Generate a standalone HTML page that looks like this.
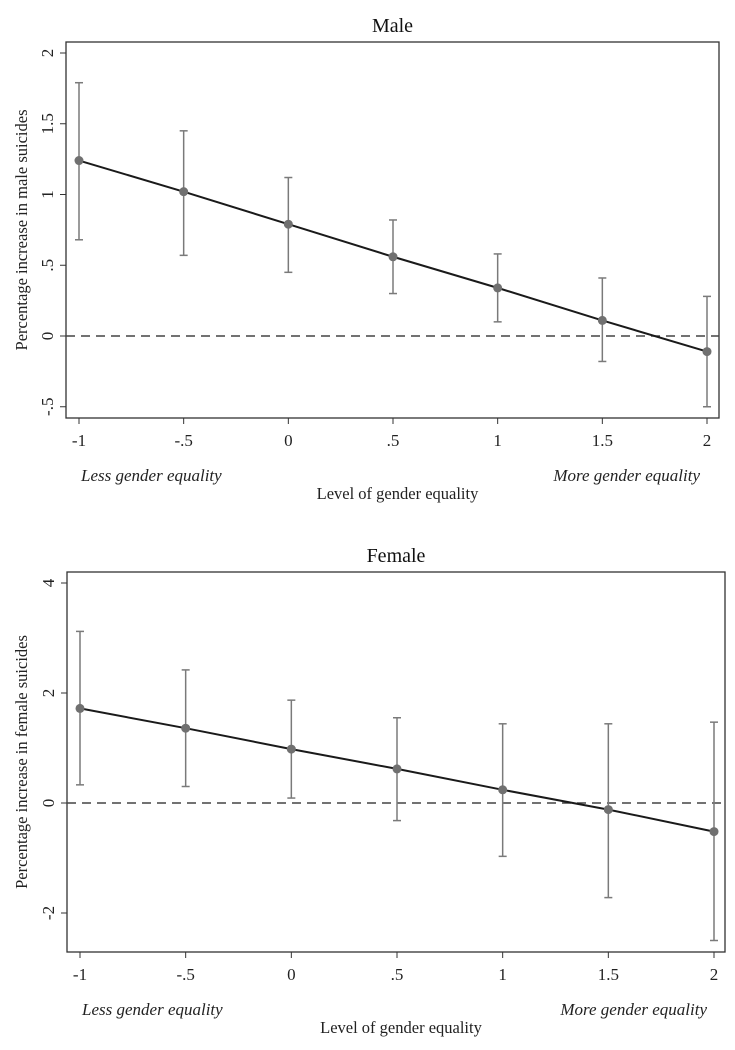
<!DOCTYPE html>
<html><head><meta charset="utf-8"><style>
html,body{margin:0;padding:0;background:#fff;}
svg{display:block;font-family:"Liberation Serif",serif;}
</style></head><body>
<svg id="chart" width="735" height="1050" viewBox="0 0 735 1050" xmlns="http://www.w3.org/2000/svg"></svg>
<script>
const xCats = [-1, -0.5, 0, 0.5, 1, 1.5, 2];
const xTickLabels = ["-1", "-.5", "0", ".5", "1", "1.5", "2"];
const maleEst = [1.24, 1.02, 0.79, 0.56, 0.34, 0.11, -0.11];
const maleLo = [0.68, 0.57, 0.45, 0.30, 0.10, -0.18, -0.50];
const maleHi = [1.79, 1.45, 1.12, 0.82, 0.58, 0.41, 0.28];
const maleYTicks = [-0.5, 0, 0.5, 1, 1.5, 2];
const maleYTickLabels = ["-.5", "0", ".5", "1", "1.5", "2"];
const femaleEst = [1.72, 1.36, 0.98, 0.62, 0.24, -0.12, -0.52];
const femaleLo = [0.33, 0.30, 0.09, -0.32, -0.97, -1.72, -2.50];
const femaleHi = [3.12, 2.42, 1.87, 1.55, 1.44, 1.44, 1.47];
const femaleYTicks = [-2, 0, 2, 4];
const femaleYTickLabels = ["-2", "0", "2", "4"];

const NS = "http://www.w3.org/2000/svg";
const svg = document.getElementById("chart");
function mk(tag, attrs, parent, text){
  const e = document.createElementNS(NS, tag);
  for (const k in attrs) e.setAttribute(k, attrs[k]);
  if (text !== undefined) e.textContent = text;
  (parent || svg).appendChild(e);
  return e;
}

function panel(cfg){
  const g = mk("g", {});
  
  
  const xs = v => cfg.x0 + (v - (-1)) / 3 * (cfg.x1 - cfg.x0);
  const ys = v => cfg.yA + (v - cfg.vA) / (cfg.vB - cfg.vA) * (cfg.yB - cfg.yA);

  const t = mk("text", {x: (cfg.L + cfg.R)/2, y: cfg.T - 10, "text-anchor": "middle", "font-size": 20, fill: "#111"}, g, cfg.title);
  
  

  const box = mk("rect", {x: cfg.L, y: cfg.T, width: cfg.R - cfg.L, height: cfg.B - cfg.T, fill: "none", stroke: "#333", "stroke-width": 1.3}, g);
  
  

  // y ticks
  cfg.yTicks.forEach((v, i) => {
    const y = ys(v);
    const tk = mk("line", {x1: cfg.L - 6, x2: cfg.L, y1: y, y2: y, stroke: "#333", "stroke-width": 1}, g);
    
    
    const lb = mk("text", {x: 0, y: 0, transform: `translate(${cfg.L - 13},${y}) rotate(-90)`, "text-anchor": "middle", "font-size": 17, fill: "#222"}, g, cfg.yTickLabels[i]);
    
    
  });
  // x ticks
  xCats.forEach((v, i) => {
    const x = xs(v);
    const tk = mk("line", {x1: x, x2: x, y1: cfg.B, y2: cfg.B + 6, stroke: "#333", "stroke-width": 1}, g);
    
    
    const lb = mk("text", {x: x, y: cfg.B + 28, "text-anchor": "middle", "font-size": 17, fill: "#222"}, g, xTickLabels[i]);
    
    
  });

  // zero line
  const z = mk("line", {x1: cfg.L, x2: cfg.R, y1: ys(0), y2: ys(0), stroke: "#444", "stroke-width": 1.6, "stroke-dasharray": "9,6"}, g);
  
  

  // error bars
  xCats.forEach((v, i) => {
    const x = xs(v);
    const eb = mk("g", {stroke: "#7a7a7a", "stroke-width": 1.5}, g);
    
    
    mk("line", {x1: x, x2: x, y1: ys(cfg.lo[i]), y2: ys(cfg.hi[i])}, eb);
    mk("line", {x1: x - 4, x2: x + 4, y1: ys(cfg.lo[i]), y2: ys(cfg.lo[i])}, eb);
    mk("line", {x1: x - 4, x2: x + 4, y1: ys(cfg.hi[i]), y2: ys(cfg.hi[i])}, eb);
  });

  // line
  const pts = xCats.map((v, i) => xs(v) + "," + ys(cfg.est[i])).join(" ");
  const pl = mk("polyline", {points: pts, fill: "none", stroke: "#1a1a1a", "stroke-width": 2}, g);
  
  

  xCats.forEach((v, i) => {
    const c = mk("circle", {cx: xs(v), cy: ys(cfg.est[i]), r: 4.5, fill: "#707070"}, g);
    
    
  });

  const yt = mk("text", {x: 0, y: 0, transform: `translate(27,${(cfg.T + cfg.B)/2}) rotate(-90)`, "text-anchor": "middle", "font-size": 16.5, fill: "#222"}, g, cfg.yTitle);
  
  

  const l1 = mk("text", {x: xs(-1) + 2, y: cfg.B + 63, "font-size": 17, "font-style": "italic", fill: "#222"}, g, "Less gender equality");
  
  
  const l2 = mk("text", {x: xs(2) - 7, y: cfg.B + 63, "text-anchor": "end", "font-size": 17, "font-style": "italic", fill: "#222"}, g, "More gender equality");
  
  
  const xt = mk("text", {x: (cfg.L + cfg.R)/2 + 5, y: cfg.B + 81, "text-anchor": "middle", "font-size": 16.5, fill: "#222"}, g, "Level of gender equality");
  
  
}

panel({name: "male", title: "Male", L: 66, R: 719, T: 42, B: 418, x0: 79, x1: 707,
  vA: 0, yA: 336, vB: 2, yB: 53, yTicks: maleYTicks, yTickLabels: maleYTickLabels,
  est: maleEst, lo: maleLo, hi: maleHi, yTitle: "Percentage increase in male suicides"});
panel({name: "female", title: "Female", L: 67, R: 725, T: 572, B: 952, x0: 80, x1: 714,
  vA: 0, yA: 803, vB: 4, yB: 583, yTicks: femaleYTicks, yTickLabels: femaleYTickLabels,
  est: femaleEst, lo: femaleLo, hi: femaleHi, yTitle: "Percentage increase in female suicides"});
</script>
</body></html>
